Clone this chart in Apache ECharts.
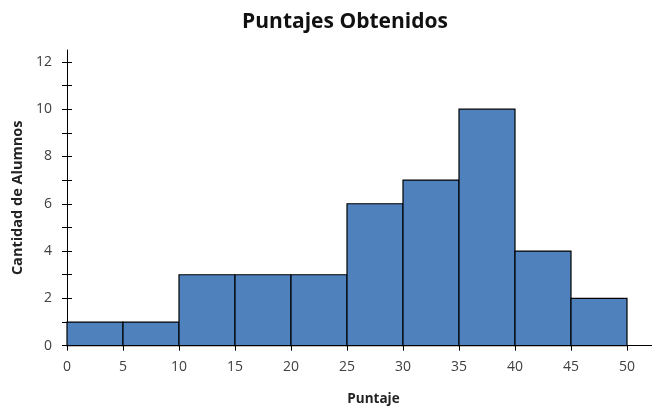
<!DOCTYPE html>
<html><head><meta charset="utf-8">
<script src="https://cdn.jsdelivr.net/npm/echarts@6/dist/echarts.min.js"></script>
<style>html,body{margin:0;padding:0;background:#fff}#c{width:652px;height:406px}</style>
</head><body><div id="c"></div>
<script>
var binStart = [0, 5, 10, 15, 20, 25, 30, 35, 40, 45];
var binEnd   = [5, 10, 15, 20, 25, 30, 35, 40, 45, 50];
var counts   = [1, 1, 3, 3, 3, 6, 7, 10, 4, 2];
var xTicks = [0, 5, 10, 15, 20, 25, 30, 35, 40, 45, 50];
var yTicks = [0, 2, 4, 6, 8, 10, 12];
var yMinorTicks = [0,1,2,3,4,5,6,7,8,9,10,11,12];

var FONT = '"Open Sans", "Noto Sans", sans-serif';
var chart = echarts.init(document.getElementById('c'));
var data = binStart.map(function(s, i){ return [s, binEnd[i], counts[i]]; });

chart.setOption({
  animation: false,
  title: {
    text: 'Puntajes Obtenidos', left: 340, top: 7, textAlign: 'center',
    textStyle: { fontFamily: FONT, fontWeight: 'bold', fontSize: 21, color: '#111' }
  },
  grid: { left: 67, top: 50, width: 585, bottom: 60.3, containLabel: false, outerBoundsMode: 'none' },
  xAxis: {
    type: 'value', min: 0, max: 50 * 585 / 560,
    name: 'Puntaje', nameLocation: 'middle', nameGap: 46,
    nameTextStyle: { fontFamily: FONT, fontWeight: 'bold', fontSize: 13.5, color: '#222', padding: [0,0,0,28] },
    axisLine: { show: true, lineStyle: { color: '#000', width: 1 } },
    axisTick: { show: true, inside: false, length: 5, customValues: xTicks, lineStyle: { color: '#000' } },
    axisLabel: { customValues: xTicks, margin: 14, fontFamily: FONT, fontSize: 14, color: '#404040' },
    splitLine: { show: false }
  },
  yAxis: [{
    type: 'value', min: 0, max: 12.5,
    name: 'Cantidad de Alumnos', nameLocation: 'middle', nameGap: 42, nameRotate: 90,
    nameTextStyle: { fontFamily: FONT, fontWeight: 'bold', fontSize: 14.5, color: '#222' },
    axisLine: { show: true, lineStyle: { color: '#000', width: 1 } },
    axisTick: { show: true, inside: false, length: 5, customValues: yMinorTicks, lineStyle: { color: '#000' } },
    axisLabel: { customValues: yTicks, margin: 15, fontFamily: FONT, fontSize: 14, color: '#404040' },
    splitLine: { show: false }
  }, {
    type: 'value', min: 0, max: 12.5, position: 'left',
    axisLine: { show: false },
    axisTick: { show: true, inside: true, length: 5, customValues: yMinorTicks, lineStyle: { color: '#000' } },
    axisLabel: { show: false },
    splitLine: { show: false }
  }],
  series: [{
    type: 'custom',
    yAxisIndex: 0,
    data: data,
    encode: { x: [0, 1], y: 2 },
    renderItem: function(params, api){
      var p0 = api.coord([api.value(0), api.value(2)]);
      var p1 = api.coord([api.value(1), 0]);
      return {
        type: 'rect',
        shape: { x: p0[0], y: p0[1], width: p1[0] - p0[0], height: p1[1] - p0[1] },
        style: { fill: '#4F81BD', stroke: '#000', lineWidth: 1.2 }
      };
    },
    z: 1
  }]
});
</script></body></html>
